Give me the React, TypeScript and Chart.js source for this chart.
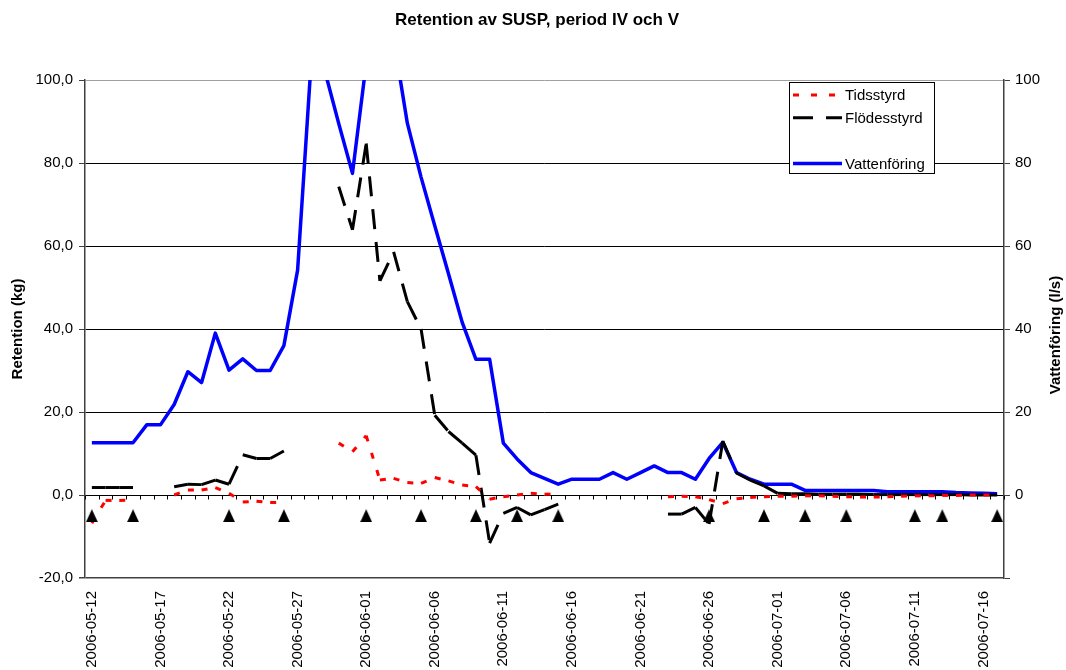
import React, { useEffect, useRef } from "react";
import { Chart, registerables } from "chart.js";

Chart.register(...registerables);

const FONT = '"Liberation Sans", Arial, Helvetica, sans-serif';

const chartTitle = "Retention av SUSP, period IV och V";
const leftAxisTitle = "Retention (kg)";
const rightAxisTitle = "Vattenföring (l/s)";

const dates = [
  "2006-05-12", "2006-05-13", "2006-05-14", "2006-05-15", "2006-05-16", "2006-05-17", "2006-05-18",
  "2006-05-19", "2006-05-20", "2006-05-21", "2006-05-22", "2006-05-23", "2006-05-24", "2006-05-25",
  "2006-05-26", "2006-05-27", "2006-05-28", "2006-05-29", "2006-05-30", "2006-05-31",
  "2006-06-01", "2006-06-02", "2006-06-03", "2006-06-04", "2006-06-05", "2006-06-06", "2006-06-07",
  "2006-06-08", "2006-06-09", "2006-06-10", "2006-06-11", "2006-06-12", "2006-06-13", "2006-06-14",
  "2006-06-15", "2006-06-16", "2006-06-17", "2006-06-18", "2006-06-19", "2006-06-20", "2006-06-21",
  "2006-06-22", "2006-06-23", "2006-06-24", "2006-06-25", "2006-06-26", "2006-06-27", "2006-06-28",
  "2006-06-29", "2006-06-30",
  "2006-07-01", "2006-07-02", "2006-07-03", "2006-07-04", "2006-07-05", "2006-07-06", "2006-07-07",
  "2006-07-08", "2006-07-09", "2006-07-10", "2006-07-11", "2006-07-12", "2006-07-13", "2006-07-14",
  "2006-07-15", "2006-07-16", "2006-07-17",
];

// Retention (kg), time-controlled sampling
const tidsstyrd: (number | null)[] = [
  -6.8, -1.3, -1.3, -1.2, null, null,
  0.0, 1.2, 1.2, 1.8, 0.4, -1.7, -1.5, -1.8, -1.8,
  null, null, null,
  12.5, 10.4, 14.3, 3.6, 4.0, 3.0, 2.8, 4.2, 3.4, 2.4, 2.0, -1.0, -0.4, 0.0, 0.4, 0.2, 0.2,
  null, null, null, null, null, null, null,
  -0.4, -0.3, -0.4, -1.1, -2.1, -0.9, -0.6, -0.4, -0.3, -0.3, -0.2, -0.2, -0.3, -0.4, -0.5,
  -0.5, -0.4, -0.3, -0.2, -0.2, -0.1, -0.1, 0.0, 0.0, 0.0,
];

// Retention (kg), flow-controlled sampling
const flodesstyrd: (number | null)[] = [
  1.8, 1.8, 1.8, 1.8, null, null,
  2.0, 2.6, 2.5, 3.6, 2.6, 9.7, 8.8, 8.8, 10.6,
  null, null, null,
  74.3, 63.9, 84.7, 51.6, 58.6, 46.6, 40.0, 19.2, 15.3, 12.5, 9.6, -11.6, -4.4, -3.0, -4.8, -3.5, -2.2,
  null, null, null, null, null, null, null,
  -4.6, -4.6, -3.0, -7.0, 13.0, 5.3, 3.6, 2.2, 0.4, 0.3, 0.3, 0.2, 0.2, 0.2, 0.2,
  0.1, 0.1, 0.1, 0.1, 0.1, 0.1, 0.1, 0.0, 0.0, 0.0,
];

// Water flow (l/s), right axis
const vattenforing: number[] = [
  12.6, 12.6, 12.6, 12.6, 16.9, 16.9, 21.8, 29.7, 27.1, 39.0, 30.1, 32.8, 30.0, 30.0, 36.0,
  54.2, 105, 102, 89.5, 77.5, 104, 118, 110, 89.6, 76.6, 64.9, 53.3, 41.6, 32.7, 32.7,
  12.5, 8.7, 5.4, 4.0, 2.6, 3.8, 3.8, 3.8, 5.4, 3.8, 5.4, 7.0, 5.4, 5.4, 3.8,
  8.8, 12.7, 5.4, 3.8, 2.6, 2.6, 2.6, 1.1, 1.1, 1.1, 1.1, 1.1, 1.1, 0.8, 0.8,
  0.8, 0.8, 0.8, 0.6, 0.5, 0.4, 0.3,
];

// Sampling occasions (triangle markers)
const sampleDates = [
  "2006-05-12", "2006-05-15", "2006-05-22", "2006-05-26", "2006-06-01", "2006-06-05",
  "2006-06-09", "2006-06-12", "2006-06-15", "2006-06-26", "2006-06-30", "2006-07-03",
  "2006-07-06", "2006-07-11", "2006-07-13", "2006-07-17",
];
const sampleLevel = -5;

const leftTicksFormat = (v: number) => v.toFixed(1).replace(".", ",");

function makeTriangle(): HTMLCanvasElement {
  const c = document.createElement("canvas");
  c.width = 12;
  c.height = 13;
  const g = c.getContext("2d")!;
  g.fillStyle = "#000";
  g.beginPath();
  g.moveTo(6, 0);
  g.lineTo(12, 13);
  g.lineTo(0, 13);
  g.closePath();
  g.fill();
  return c;
}

const decorPlugin = {
  id: "decor",
  beforeDatasetsDraw(chart: any) {
    const { ctx, chartArea } = chart;
    const xs = chart.scales.x;
    const ys = chart.scales.y;
    const y0 = Math.round(ys.getPixelForValue(0)) + 0.5;
    const step = xs.getPixelForValue(1) - xs.getPixelForValue(0);
    ctx.save();
    ctx.strokeStyle = "#000";
    ctx.lineWidth = 1;
    ctx.beginPath();
    for (let i = 0; i <= dates.length; i++) {
      const x = Math.round(xs.getPixelForValue(i) - step / 2) + 0.5;
      if (x < chartArea.left - 1 || x > chartArea.right + 1) continue;
      ctx.moveTo(x, y0);
      ctx.lineTo(x, y0 + 4);
    }
    ctx.stroke();
    ctx.restore();
  },
  afterDraw(chart: any) {
    const { ctx, chartArea } = chart;
    ctx.save();
    ctx.fillStyle = "#000";
    // Title
    ctx.font = `bold 17px ${FONT}`;
    ctx.textAlign = "center";
    ctx.textBaseline = "middle";
    ctx.fillText(chartTitle, 537, 20);
    // Axis titles
    ctx.font = `bold 15px ${FONT}`;
    const midY = (chartArea.top + chartArea.bottom) / 2;
    ctx.save();
    ctx.translate(18, midY);
    ctx.rotate(-Math.PI / 2);
    ctx.fillText(leftAxisTitle, 0, 0);
    ctx.restore();
    ctx.save();
    ctx.translate(1056, midY + 6);
    ctx.rotate(-Math.PI / 2);
    ctx.fillText(rightAxisTitle, 0, 0);
    ctx.restore();

    // Legend
    const bx = chartArea.right - 215;
    const by = chartArea.top + 2;
    const bw = 145;
    const bh = 91;
    ctx.fillStyle = "#fff";
    ctx.fillRect(bx, by, bw, bh);
    ctx.strokeStyle = "#000";
    ctx.lineWidth = 1;
    ctx.setLineDash([]);
    ctx.strokeRect(bx + 0.5, by + 0.5, bw, bh);
    const rows = [0, 1, -1, 2];
    ctx.font = `15px ${FONT}`;
    ctx.textAlign = "left";
    ctx.textBaseline = "middle";
    rows.forEach((di, r) => {
      if (di < 0) return;
      const ds = chart.data.datasets[di];
      const y = by + 13 + r * 22.8;
      ctx.save();
      ctx.strokeStyle = ds.borderColor;
      ctx.lineWidth = ds.borderWidth;
      ctx.setLineDash(ds.borderDash || []);
      ctx.lineCap = "butt";
      ctx.beginPath();
      ctx.moveTo(bx + 4, y);
      ctx.lineTo(bx + 53, y);
      ctx.stroke();
      ctx.restore();
      ctx.fillStyle = "#000";
      ctx.fillText(ds.label, bx + 56, y + 1);
    });
    ctx.restore();
  },
};

export default function App() {
  const ref = useRef<HTMLCanvasElement | null>(null);

  useEffect(() => {
    if (!ref.current) return;
    Chart.defaults.font.family = FONT;
    const tri = makeTriangle();
    const samples = dates.map((d) => (sampleDates.includes(d) ? sampleLevel : null));
    const restartDash = {
      borderDashOffset: (c: any) => (c.p0DataIndex % 2) * 0.001,
    };

    const chart = new Chart(ref.current, {
      type: "line",
      data: {
        labels: dates,
        datasets: [
          {
            label: "Tidsstyrd",
            data: tidsstyrd,
            borderColor: "#ff0000",
            backgroundColor: "#ff0000",
            borderWidth: 3,
            borderDash: [6, 12],
            pointRadius: 0,
            yAxisID: "y",
            segment: restartDash,
            order: 1,
            clip: 0,
            spanGaps: false,
            tension: 0,
          } as any,
          {
            label: "Flödesstyrd",
            data: flodesstyrd,
            borderColor: "#000000",
            backgroundColor: "#000000",
            borderWidth: 3,
            borderDash: [20, 13],
            pointRadius: 0,
            yAxisID: "y",
            segment: restartDash,
            order: 2,
            clip: 0,
            spanGaps: false,
            tension: 0,
          } as any,
          {
            label: "Vattenföring",
            data: vattenforing,
            borderColor: "#0000ff",
            backgroundColor: "#0000ff",
            borderWidth: 3.5,
            borderJoinStyle: "round",
            pointRadius: 0,
            yAxisID: "y1",
            order: 3,
            clip: 0,
            tension: 0,
          } as any,
          {
            label: "Provtagning",
            data: samples,
            showLine: false,
            pointStyle: tri,
            pointRadius: 6,
            pointHoverRadius: 6,
            yAxisID: "y",
            order: 0,
          } as any,
        ],
      },
      options: {
        responsive: false,
        animation: false,
        devicePixelRatio: 1,
        layout: { padding: { top: 80, left: 0, right: 0, bottom: 0 } },
        plugins: {
          legend: { display: false },
          title: { display: false },
          tooltip: { enabled: false },
        },
        events: [],
        scales: {
          x: {
            type: "category",
            offset: true,
            grid: { display: false, drawTicks: false },
            border: { display: false },
            ticks: {
              autoSkip: false,
              maxRotation: 90,
              minRotation: 90,
              padding: 13,
              color: "#000",
              font: { family: FONT, size: 15 },
              callback: (_v: any, i: number) => (i % 5 === 0 ? dates[i] : ""),
            },
            afterFit: (s: any) => {
              s.height = 92;
            },
          },
          y: {
            position: "left",
            min: -20,
            max: 100,
            ticks: {
              stepSize: 20,
              padding: 6,
              color: "#000",
              font: { family: FONT, size: 15 },
              callback: (v: any) => leftTicksFormat(Number(v)),
            },
            grid: {
              color: (c: any) =>
                c.tick && c.tick.value === 100 ? "#a0a0a0" : c.tick && c.tick.value === -20 ? "#404040" : "#000",
              lineWidth: (c: any) => (c.tick && c.tick.value === -20 ? 1.5 : 1),
              tickLength: 6,
              tickColor: "#404040",
              drawTicks: true,
            },
            border: { display: true, color: "#404040", width: 1.5 },
            afterFit: (s: any) => {
              s.width = 85;
            },
          },
          y1: {
            position: "right",
            min: -20,
            max: 100,
            ticks: {
              stepSize: 20,
              padding: 5,
              color: "#000",
              font: { family: FONT, size: 15 },
              callback: (v: any) => (Number(v) < 0 ? "" : String(v)),
            },
            grid: { drawOnChartArea: false, tickLength: 6, tickColor: "#404040" },
            border: { display: true, color: "#404040", width: 1.5 },
            afterFit: (s: any) => {
              s.width = 62;
            },
          },
        },
      } as any,
      plugins: [decorPlugin],
    });
    return () => chart.destroy();
  }, []);

  return (
    <div style={{ position: "fixed", left: 0, top: 0, width: 1066, height: 670, background: "#fff" }}>
      <canvas ref={ref} width={1066} height={670} style={{ display: "block" }} />
    </div>
  );
}
